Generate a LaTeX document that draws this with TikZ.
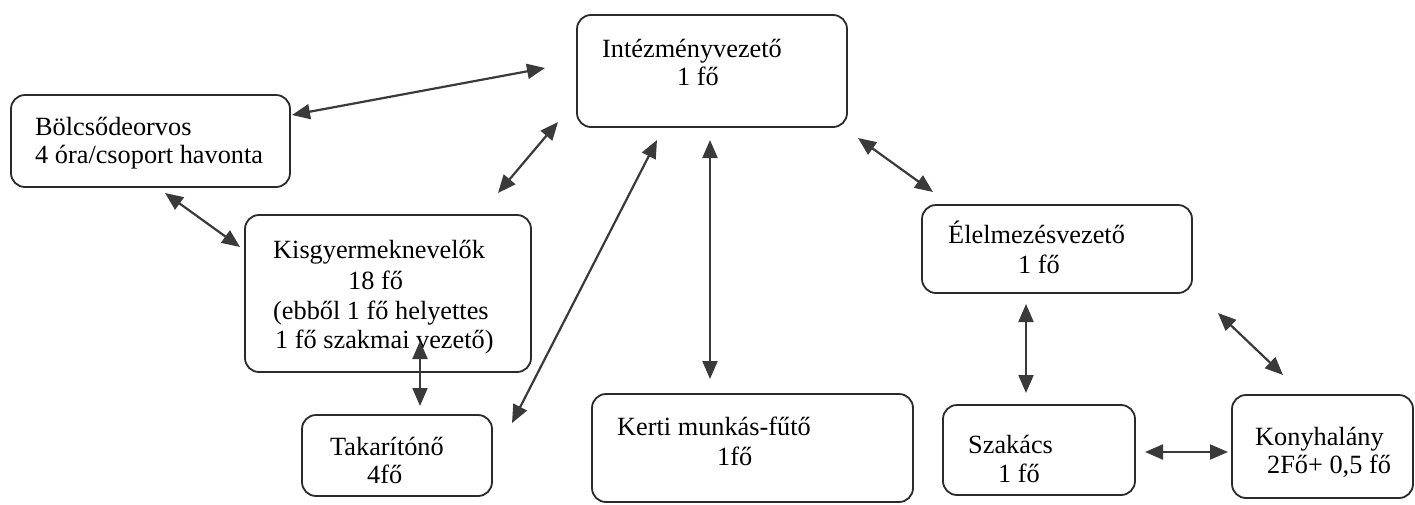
\documentclass[tikz,border=0pt]{standalone}
\usepackage{fontspec}
\setmainfont{Liberation Serif}
\usetikzlibrary{arrows.meta}
\definecolor{linegray}{HTML}{2A2A2A}
\definecolor{arrowgray}{HTML}{3A3A3A}
\begin{document}
\begin{tikzpicture}[x=1pt,y=-1pt,
  box/.style={draw=linegray,line width=1.8pt,rounded corners=14pt,rectangle,inner sep=0pt},
  txt/.style={anchor=base west,inner sep=0pt,font=\fontsize{26.3}{28}\selectfont,text=black},
  arr/.style={draw=arrowgray,line width=2.2pt,{Triangle[length=18pt,width=15pt]}-{Triangle[length=18pt,width=15pt]}}]
\useasboundingbox (0,0) rectangle (1415,504);
% boxes
\node[box,minimum width=270pt,minimum height=112pt] (iv) at (712,71) {};
\node[box,minimum width=279pt,minimum height=92pt] (bol) at (150.5,141) {};
\node[box,minimum width=286pt,minimum height=157pt] (kis) at (388,293.5) {};
\node[box,minimum width=190pt,minimum height=81pt] (tak) at (397,455.5) {};
\node[box,minimum width=321pt,minimum height=108pt] (ker) at (752.5,448) {};
\node[box,minimum width=270pt,minimum height=88pt] (ele) at (1057,249) {};
\node[box,minimum width=192pt,minimum height=90pt] (sza) at (1039,450) {};
\node[box,minimum width=181pt,minimum height=103pt] (kon) at (1322.5,446.5) {};
% texts
\node[txt] (iv1) at (602,57) {Intézményvezető};
\node[txt] (iv2) at (677,85) {1 fő};
\node[txt] (bol1) at (35,135) {Bölcsődeorvos};
\node[txt] (bol2) at (35,163) {4 óra/csoport havonta};
\node[txt] (kis1) at (273,258) {Kisgyermeknevelők};
\node[txt] (kis2) at (348,289) {18 fő};
\node[txt] (kis3) at (273,319) {(ebből 1 fő helyettes};
\node[txt] (kis4) at (275,348) {1 fő szakmai vezető)};
\node[txt] (tak1) at (330,455) {Takarítónő};
\node[txt] (tak2) at (367,483) {4fő};
\node[txt] (ker1) at (617,435) {Kerti munkás-fűtő};
\node[txt] (ker2) at (717,465) {1fő};
\node[txt] (ele1) at (948,243) {Élelmezésvezető};
\node[txt] (ele2) at (1018,273) {1 fő};
\node[txt] (sza1) at (968,453) {Szakács};
\node[txt] (sza2) at (998,482) {1 fő};
\node[txt] (kon1) at (1255,445) {Konyhalány};
\node[txt] (kon2) at (1267,473) {2Fő+ 0,5 fő};
% connector end points
\coordinate (a1) at (292,115); \coordinate (b1) at (545,68);
\coordinate (a2) at (498,193); \coordinate (b2) at (558,122);
\coordinate (a3) at (165,193); \coordinate (b3) at (240,247);
\coordinate (a4) at (420,341); \coordinate (b4) at (420,406);
\coordinate (a5) at (512,423); \coordinate (b5) at (657,140);
\coordinate (a6) at (710,140); \coordinate (b6) at (710,379);
\coordinate (a7) at (858,138); \coordinate (b7) at (933,192);
\coordinate (a8) at (1026,304); \coordinate (b8) at (1026,393);
\coordinate (a9) at (1218,313); \coordinate (b9) at (1283,375);
\coordinate (a10) at (1145,452); \coordinate (b10) at (1228,452);
% connectors
\draw[arr] (a1) -- (b1);
\draw[arr] (a2) -- (b2);
\draw[arr] (a3) -- (b3);
\draw[arr] (a4) -- (b4);
\draw[arr] (a5) -- (b5);
\draw[arr] (a6) -- (b6);
\draw[arr] (a7) -- (b7);
\draw[arr] (a8) -- (b8);
\draw[arr] (a9) -- (b9);
\draw[arr] (a10) -- (b10);
\end{tikzpicture}
\end{document}
